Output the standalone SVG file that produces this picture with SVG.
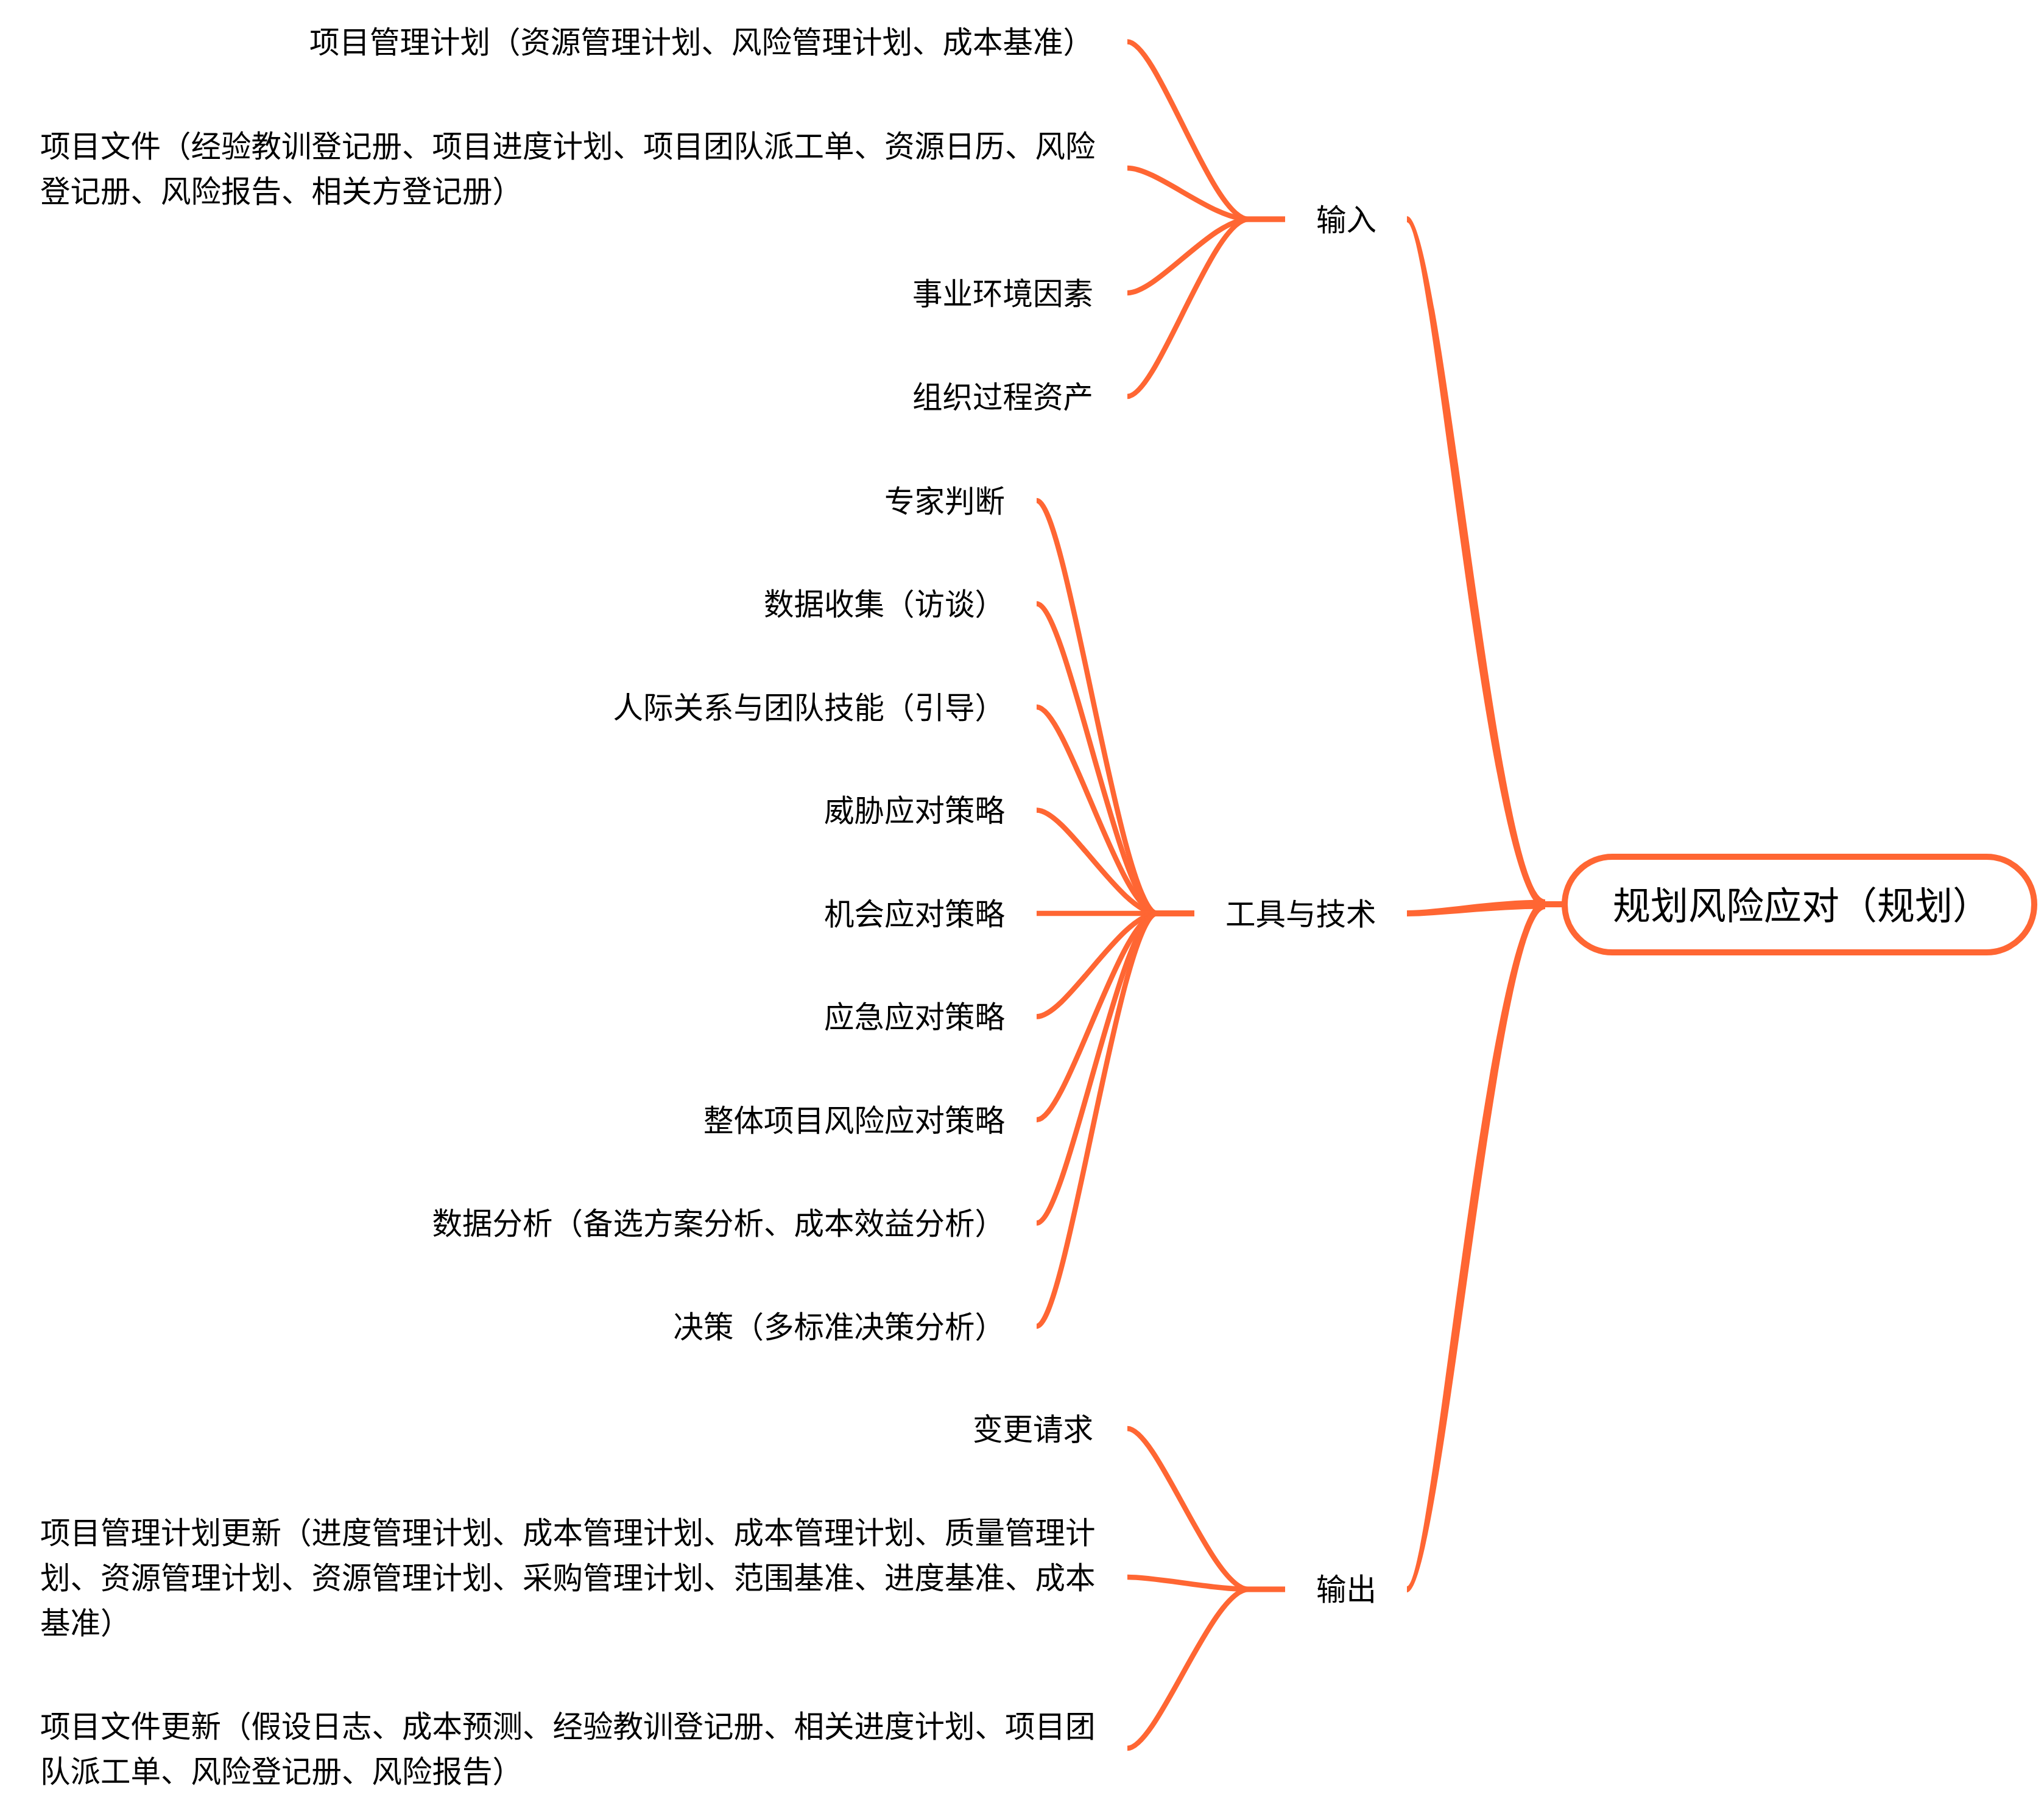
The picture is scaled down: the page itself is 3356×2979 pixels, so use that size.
<svg xmlns="http://www.w3.org/2000/svg" width="3356" height="2979" viewBox="0 0 3356 2979">
<style>
.t{font-family:"Noto Sans CJK SC","Noto Sans",sans-serif;font-size:49.5px;fill:#000}
.e{text-anchor:end}
.root{font-family:"Noto Sans CJK SC","Noto Sans",sans-serif;font-size:62px;fill:#000}
.c{fill:none;stroke:#FF6633;stroke-width:8.5;stroke-linecap:butt}
.tp{fill:#FF6633;stroke:none}
</style>
<rect width="3356" height="2979" fill="#fff"/>
<g id="connectors">
<path class="tp" d="M2310,355 C2368,355 2458,1477 2537,1477 L2537,1493 C2442,1493 2352,365 2310,365 Z"/>
<path class="tp" d="M2310,1495 C2360,1495 2450,1477.5 2537,1477.5 L2537,1492.5 C2450,1492.5 2360,1505 2310,1505 Z"/>
<path class="tp" d="M2310,2605 C2352,2605 2442,1477 2537,1477 L2537,1493 C2458,1493 2368,2615 2310,2615 Z"/>
<path class="c" d="M2532,1485 L2570,1485" style="stroke-width:10"/>
<path class="c" d="M1851,68.5 C1900,68.5 1990,360 2050,360 L2110,360"/>
<path class="c" d="M1851,276 C1900,276 1990,360 2050,360 L2110,360"/>
<path class="c" d="M1851,481 C1900,481 1990,360 2050,360 L2110,360"/>
<path class="c" d="M1851,651 C1900,651 1990,360 2050,360 L2110,360"/>
<path class="c" d="M1702,822 C1751,822 1840,1500 1900,1500 L1961,1500"/>
<path class="c" d="M1702,991.5 C1751,991.5 1840,1500 1900,1500 L1961,1500"/>
<path class="c" d="M1702,1161 C1751,1161 1840,1500 1900,1500 L1961,1500"/>
<path class="c" d="M1702,1330.5 C1751,1330.5 1840,1500 1900,1500 L1961,1500"/>
<path class="c" d="M1702,1500 L1961,1500"/>
<path class="c" d="M1702,1669.5 C1751,1669.5 1840,1500 1900,1500 L1961,1500"/>
<path class="c" d="M1702,1839 C1751,1839 1840,1500 1900,1500 L1961,1500"/>
<path class="c" d="M1702,2008.5 C1751,2008.5 1840,1500 1900,1500 L1961,1500"/>
<path class="c" d="M1702,2178 C1751,2178 1840,1500 1900,1500 L1961,1500"/>
<path class="c" d="M1851,2346 C1900,2346 1990,2610 2050,2610 L2110,2610"/>
<path class="c" d="M1851,2590 C1900,2590 1990,2610 2050,2610 L2110,2610"/>
<path class="c" d="M1851,2871 C1900,2871 1990,2610 2050,2610 L2110,2610"/>
</g>
<g id="root">
<rect x="2569" y="1407" width="771" height="157" rx="78.5" ry="78.5" fill="#fff" stroke="#FF6633" stroke-width="10"/>
<text class="root" x="2648" y="1509.6">规划风险应对（规划）</text>
</g>
<g id="b-input"><text class="t" x="2161" y="378.8">输入</text></g>
<g id="b-tools"><text class="t" x="2012" y="1518.8">工具与技术</text></g>
<g id="b-output"><text class="t" x="2161" y="2627.8">输出</text></g>
<g id="in1"><text class="t e" x="1795" y="87.3">项目管理计划（资源管理计划、风险管理计划、成本基准）</text></g>
<g id="in2"><text class="t" x="66" y="257.8">项目文件（经验教训登记册、项目进度计划、项目团队派工单、资源日历、风险</text><text class="t" x="66" y="331.8">登记册、风险报告、相关方登记册）</text></g>
<g id="in3"><text class="t e" x="1795" y="499.8">事业环境因素</text></g>
<g id="in4"><text class="t e" x="1795" y="669.8">组织过程资产</text></g>
<g id="tt1"><text class="t e" x="1650" y="840.8">专家判断</text></g>
<g id="tt2"><text class="t e" x="1650" y="1010.3">数据收集（访谈）</text></g>
<g id="tt3"><text class="t e" x="1650" y="1179.8">人际关系与团队技能（引导）</text></g>
<g id="tt4"><text class="t e" x="1650" y="1349.3">威胁应对策略</text></g>
<g id="tt5"><text class="t e" x="1650" y="1518.8">机会应对策略</text></g>
<g id="tt6"><text class="t e" x="1650" y="1688.3">应急应对策略</text></g>
<g id="tt7"><text class="t e" x="1650" y="1857.8">整体项目风险应对策略</text></g>
<g id="tt8"><text class="t e" x="1650" y="2027.3">数据分析（备选方案分析、成本效益分析）</text></g>
<g id="tt9"><text class="t e" x="1650" y="2196.8">决策（多标准决策分析）</text></g>
<g id="out1"><text class="t e" x="1795" y="2364.8">变更请求</text></g>
<g id="out2"><text class="t" x="66" y="2534.8">项目管理计划更新（进度管理计划、成本管理计划、成本管理计划、质量管理计</text><text class="t" x="66" y="2608.8">划、资源管理计划、资源管理计划、采购管理计划、范围基准、进度基准、成本</text><text class="t" x="66" y="2682.8">基准）</text></g>
<g id="out3"><text class="t" x="66" y="2852.8">项目文件更新（假设日志、成本预测、经验教训登记册、相关进度计划、项目团</text><text class="t" x="66" y="2926.8">队派工单、风险登记册、风险报告）</text></g>
</svg>
